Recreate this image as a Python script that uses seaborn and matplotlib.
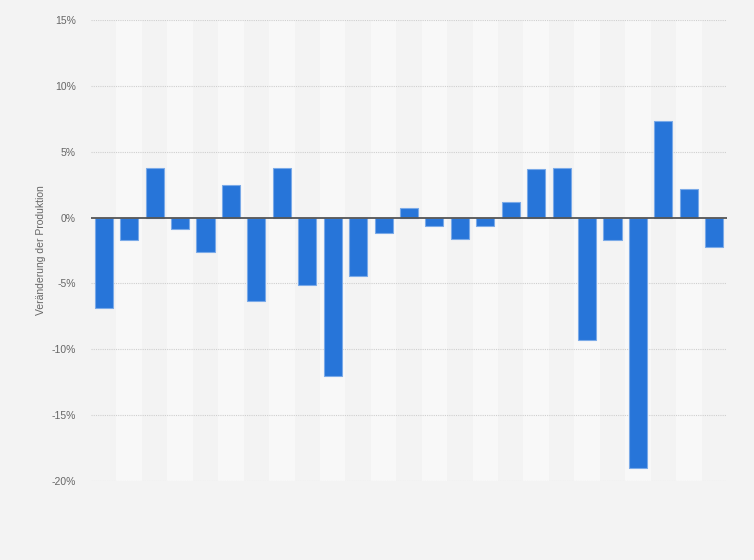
import pandas as pd
import matplotlib
matplotlib.use("Agg")
import matplotlib.pyplot as plt
import seaborn as sns
from matplotlib.ticker import FuncFormatter

# Werte (Veränderung der Produktion in %)
positions = list(range(1, 26))
changes = [-6.9, -1.7, 3.8, -0.9, -2.6, 2.5, -6.3, 3.8, -5.1, -12.0,
           -4.4, -1.2, 0.7, -0.65, -1.6, -0.65, 1.2, 3.7, 3.8, -9.3,
           -1.7, -19.0, 7.3, 2.2, -2.2]
y_ticks = [-20, -15, -10, -5, 0, 5, 10, 15]
y_label = "Veränderung der Produktion"

sns.set_style("white")
plt.rcParams['font.family'] = ['Liberation Sans', 'DejaVu Sans']

df = pd.DataFrame({'pos': positions, 'change': changes})

fig = plt.figure(figsize=(7.54, 5.60), dpi=100)
fig.patch.set_facecolor('#f3f3f3')
ax = fig.add_axes([91 / 754, 1 - 481 / 560, (727 - 91) / 754, (481 - 20) / 560])
ax.set_facecolor('#f3f3f3')

# helle Streifen für jede zweite Kategorie
for i in range(1, len(positions), 2):
    ax.axvspan(i - 0.5, i + 0.5, color='#f8f8f8', zorder=0, lw=0)

sns.barplot(data=df, x='pos', y='change', color='#2775d9', width=0.71,
            edgecolor='#7aaae8', linewidth=0.8, saturation=1, ax=ax, zorder=3)

ax.set_ylim(-20, 15)
ax.set_xlim(-0.5, len(positions) - 0.5)
ax.set_yticks(y_ticks)
ax.yaxis.set_major_formatter(FuncFormatter(lambda v, p: f'{int(v)}%'))
ax.set_xticks([])
ax.set_xlabel('')
ax.set_ylabel(y_label, color='#666666', fontsize=7.5, labelpad=4)
ax.tick_params(axis='y', length=0, labelsize=7.5, labelcolor='#666666', pad=11)

for v in y_ticks:
    if v != 0:
        ax.axhline(v, color='#cfcfcf', lw=0.8, ls=(0, (1, 1)), zorder=1)
ax.axhline(0, color='#555555', lw=1.3, zorder=4)

for s in ax.spines.values():
    s.set_visible(False)

plt.savefig('out.png', dpi=100, facecolor=fig.get_facecolor())
